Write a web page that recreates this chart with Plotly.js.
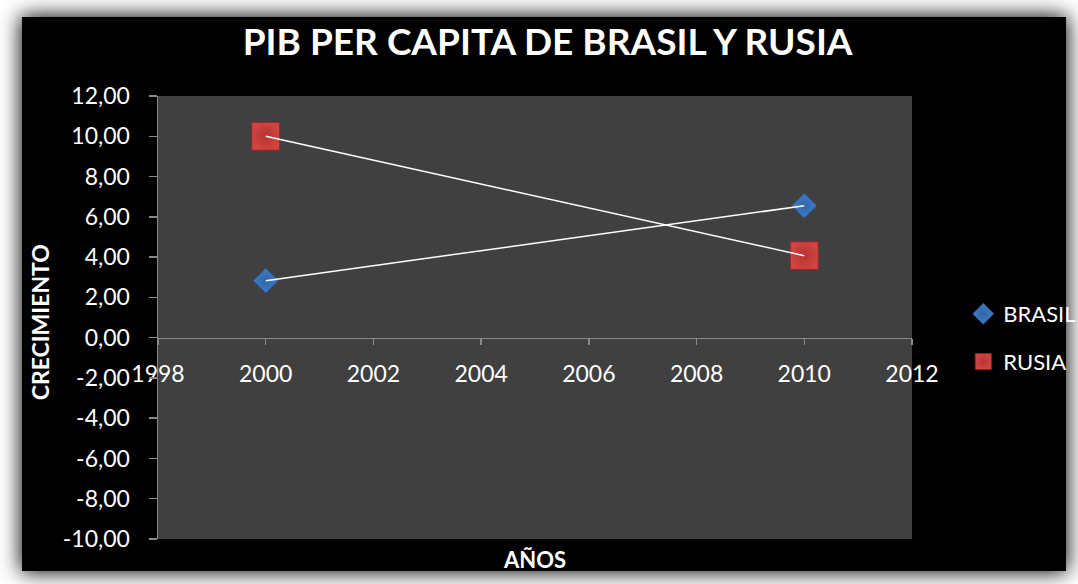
<!DOCTYPE html>
<html>
<head>
<meta charset="utf-8">
<script src="https://cdn.plot.ly/plotly-3.0.1.min.js"></script>
<style>
  html, body { margin:0; padding:0; background:#ffffff; width:1078px; height:584px; overflow:hidden; }
  #frame { position:absolute; left:22px; top:17px; width:1044px; height:554px; background:#000; box-shadow:0 0 20px 1px #000; }
  #chart { position:absolute; left:0; top:0; width:1078px; height:584px; }
</style>
</head>
<body>
<div id="frame"></div>
<div id="chart"></div>
<script>
const years = [2000, 2010];
const brasil = [2.83, 6.55];
const rusia = [10.0, 4.07];
const seriesNames = ['BRASIL', 'RUSIA'];
const yTickVals = [-10, -8, -6, -4, -2, 0, 2, 4, 6, 8, 10, 12];
const yTickText = ['-10,00', '-8,00', '-6,00', '-4,00', '-2,00', '0,00', '2,00', '4,00', '6,00', '8,00', '10,00', '12,00'];
const titleText = 'PIB PER CAPITA DE BRASIL Y RUSIA';
const xTitle = 'AÑOS';
const yTitle = 'CRECIMIENTO';

const FONT = 'Lato, "Open Sans", sans-serif';

const traces = [
  { x: years, y: brasil, name: seriesNames[0], mode: 'markers', type: 'scatter', legend: 'legend',
    marker: { symbol: 'diamond', size: 19, color: '#3f7dc8', line: { color: '#2a5a98', width: 1 },
              gradient: { type: 'radial', color: '#2f65a8' } } },
  { x: years, y: rusia, name: seriesNames[1], mode: 'markers', type: 'scatter', legend: 'legend2',
    marker: { symbol: 'square', size: 28, color: '#d04541', line: { color: '#8e2624', width: 1 },
              gradient: { type: 'radial', color: '#b33330' } } },
  { x: years, y: brasil, mode: 'lines', type: 'scatter', showlegend: false, hoverinfo: 'skip',
    line: { color: '#ffffff', width: 1.5 } },
  { x: years, y: rusia, mode: 'lines', type: 'scatter', showlegend: false, hoverinfo: 'skip',
    line: { color: '#ffffff', width: 1.5 } }
];

const legendBase = {
  x: 1.068, xanchor: 'left', yanchor: 'middle',
  font: { family: FONT, size: 22, color: '#ffffff' },
  bgcolor: 'rgba(0,0,0,0)', itemsizing: 'trace'
};

const layout = {
  width: 1078, height: 584,
  paper_bgcolor: 'rgba(0,0,0,0)',
  plot_bgcolor: '#404040',
  separators: ',.',
  margin: { l: 158, r: 166, t: 96, b: 45, pad: 0, autoexpand: false },
  font: { family: FONT, color: '#ffffff', size: 20 },
  title: { text: '<b>' + titleText + '</b>', font: { family: FONT, size: 37, color: '#ffffff' },
           x: 0.508, xanchor: 'center', y: 0.928, yanchor: 'middle' },
  xaxis: {
    range: [1998, 2012], dtick: 2, tick0: 1998, tickformat: 'd',
    anchor: 'free', position: 10/22,
    showline: true, linecolor: '#8a8a8a', linewidth: 1.5,
    ticks: 'outside', ticklen: 6, tickcolor: '#8a8a8a', tickwidth: 1.5,
    ticklabelstandoff: 9,
    showgrid: false, zeroline: false, automargin: false,
    tickfont: { family: FONT, size: 23, color: '#ffffff' }
  },
  yaxis: {
    range: [-10, 12], tickmode: 'array', tickvals: yTickVals, ticktext: yTickText,
    showline: true, linecolor: '#8a8a8a', linewidth: 1.5,
    ticks: 'outside', ticklen: 8, tickcolor: '#8a8a8a', tickwidth: 1.5,
    ticklabelstandoff: 14,
    showgrid: false, zeroline: false, automargin: false,
    tickfont: { family: FONT, size: 23, color: '#ffffff' }
  },
  legend: Object.assign({}, legendBase, { y: 0.508 }),
  legend2: Object.assign({}, legendBase, { y: 0.400 }),
  annotations: [
    { text: '<b>' + xTitle + '</b>', xref: 'paper', yref: 'paper', x: 0.499, y: -0.047,
      xanchor: 'center', yanchor: 'middle', showarrow: false,
      font: { family: FONT, size: 22, color: '#ffffff' } },
    { text: '<b>' + yTitle + '</b>', xref: 'paper', yref: 'paper', x: -0.156, y: 0.49,
      xanchor: 'center', yanchor: 'middle', showarrow: false, textangle: -90,
      font: { family: FONT, size: 23, color: '#ffffff' } }
  ]
};

Plotly.newPlot('chart', traces, layout, { displayModeBar: false, staticPlot: true });
</script>
</body>
</html>
